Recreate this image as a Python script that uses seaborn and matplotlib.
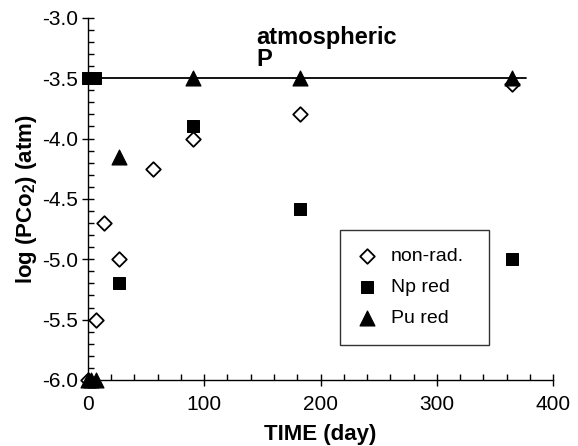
import pandas as pd
import seaborn as sns
import matplotlib.pyplot as plt
from matplotlib.ticker import MultipleLocator

# values
nonrad_t = [0, 7, 14, 27, 56, 90, 182, 365]
nonrad_v = [-6.0, -5.5, -4.7, -5.0, -4.25, -4.0, -3.8, -3.55]
np_t = [0, 6, 27, 90, 182, 365]
np_v = [-3.5, -3.5, -5.2, -3.9, -4.58, -5.0]
pu_t = [0, 3, 7, 27, 90, 182, 365]
pu_v = [-6.0, -6.0, -6.0, -4.15, -3.5, -3.5, -3.5]
atm_level = -3.5
atm_span = [0, 377]

sns.set_style("ticks")
plt.rcParams['font.family'] = ['Liberation Sans', 'DejaVu Sans']
plt.rcParams['text.color'] = 'black'
plt.rcParams['xtick.color'] = 'black'
plt.rcParams['ytick.color'] = 'black'
plt.rcParams['axes.labelcolor'] = 'black'
plt.rcParams['mathtext.fontset'] = 'custom'
plt.rcParams['mathtext.rm'] = 'Liberation Sans'
plt.rcParams['mathtext.bf'] = 'Liberation Sans:bold'

fig = plt.figure(figsize=(5.78, 4.46), dpi=100)
ax = fig.add_axes([0.152, 0.148, 0.805, 0.812])

ax.plot(atm_span, [atm_level, atm_level], color='black', lw=1.3, zorder=1)

sns.scatterplot(x=nonrad_t, y=nonrad_v, marker='D', s=55, facecolor='white',
                edgecolor='black', linewidth=1.3, label='non-rad.', ax=ax, zorder=3)
sns.scatterplot(x=np_t, y=np_v, marker='s', s=80, color='black',
                edgecolor='black', label='Np red', ax=ax, zorder=4)
sns.scatterplot(x=pu_t, y=pu_v, marker='^', s=115, color='black',
                edgecolor='black', label='Pu red', ax=ax, zorder=5)

ax.text(145, -3.255, 'atmospheric\nP', fontsize=17, fontweight='bold',
        va='center', ha='left', linespacing=0.95)

ax.set_xlim(0, 400)
ax.set_ylim(-6.0, -3.0)
ax.xaxis.set_major_locator(MultipleLocator(100))
ax.xaxis.set_minor_locator(MultipleLocator(20))
ax.yaxis.set_major_locator(MultipleLocator(0.5))
ax.yaxis.set_minor_locator(MultipleLocator(0.1))
ax.yaxis.set_major_formatter(plt.FormatStrFormatter('%.1f'))
ax.tick_params(which='major', direction='inout', length=8, width=1, labelsize=15)
ax.tick_params(axis='x', which='major', pad=7)
ax.tick_params(axis='y', which='major', pad=3)
ax.tick_params(which='minor', direction='in', length=4, width=1)
for side in ['top', 'right']:
    ax.spines[side].set_visible(False)
for side in ['left', 'bottom']:
    ax.spines[side].set_linewidth(1)
    ax.spines[side].set_color('black')

ax.set_xlabel('TIME (day)', fontsize=16, fontweight='bold', labelpad=7)
ax.set_ylabel('log (PCo$_\\mathbf{2}$) (atm)', fontsize=16, fontweight='bold', labelpad=2)

leg = ax.legend(loc='lower left', bbox_to_anchor=(0.542, 0.097, 0.321, 0.303),
                mode='expand', borderaxespad=0, fontsize=14, frameon=True,
                fancybox=False, borderpad=0.9, labelspacing=0.7,
                handletextpad=0.7, handlelength=1.0)
leg.get_frame().set_edgecolor('black')
leg.get_frame().set_linewidth(1)

for a in ax.get_children():
    if hasattr(a, 'set_clip_on'):
        a.set_clip_on(False)

plt.savefig('out.png', dpi=100)
